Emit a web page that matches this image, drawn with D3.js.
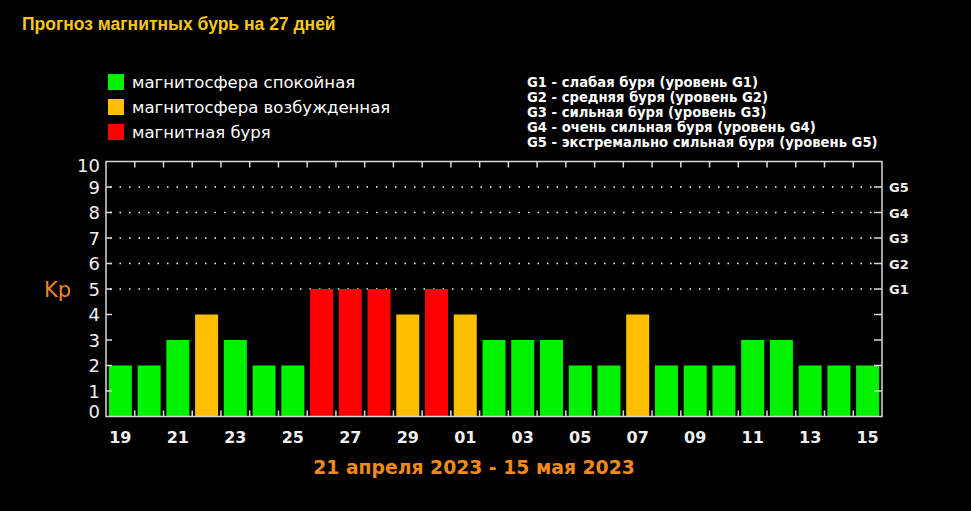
<!DOCTYPE html>
<html><head><meta charset="utf-8">
<script src="https://cdn.jsdelivr.net/npm/d3@7"></script>
<style>html,body{margin:0;padding:0;background:#000;}svg{display:block;}</style>
</head><body>
<svg id="c" width="971" height="511"></svg>
<script>
const days = ["19","20","21","22","23","24","25","26","27","28","29","30","01","02","03","04","05","06","07","08","09","10","11","12","13","14","15"];
const kp =   [2,2,3,4,3,2,2,5,5,5,4,5,4,3,3,3,2,2,4,2,2,2,3,3,2,2,2];
const yTicks = [0,1,2,3,4,5,6,7,8,9,10];
const gLabels = ["G1","G2","G3","G4","G5"];
const gValues = [5,6,7,8,9];
const legendItems = ["магнитосфера спокойная","магнитосфера возбужденная","магнитная буря"];
const legendColors = ["#00f200","#ffbf00","#ff0000"];
const gLegend = ["G1 - слабая буря (уровень G1)","G2 - средняя буря (уровень G2)","G3 - сильная буря (уровень G3)","G4 - очень сильная буря (уровень G4)","G5 - экстремально сильная буря (уровень G5)"];
const title = "Прогноз магнитных бурь на 27 дней";
const dateRange = "21 апреля 2023 - 15 мая 2023";

function colorFor(v){ return v>=5 ? legendColors[2] : (v>=4 ? legendColors[1] : legendColors[0]); }

const svg = d3.select("#c");
svg.append("rect").attr("width",971).attr("height",511).attr("fill","#000");

const L=106, R=882, T=161.5, B=416.5;
const x = d3.scaleBand().domain(days.map((d,i)=>i)).range([L,R]).paddingInner(0.2).paddingOuter(0.1);
const xb = d3.scaleLinear().domain([0,days.length]).range([L,R]);
const y = d3.scaleLinear().domain([0,10]).range([B,T]);

svg.append("text").attr("x",22).attr("y",30).attr("fill","#f5c818")
  .attr("font-family","Liberation Sans, Arial").attr("font-weight","bold").attr("font-size",17.5).text(title);

// legend
const lg = svg.append("g");
legendItems.forEach((t,i)=>{
  lg.append("rect").attr("x",108).attr("y",74+i*25).attr("width",16).attr("height",16).attr("fill",legendColors[i]);
  lg.append("text").attr("x",132).attr("y",88+i*25).attr("fill","#fff").attr("font-family","DejaVu Sans, Verdana").attr("font-size",16.5).text(t);
});
gLegend.forEach((t,i)=>{
  lg.append("text").attr("x",527).attr("y",87+i*15).attr("fill","#fff").attr("font-family","DejaVu Sans, Verdana").attr("font-weight","bold").attr("font-size",13.2).text(t);
});

// grid dotted
gValues.forEach(v=>{
  svg.append("line").attr("x1",L+4).attr("x2",R-4).attr("y1",y(v)).attr("y2",y(v))
    .attr("stroke","#fff").attr("stroke-width",1.5).attr("stroke-dasharray","1.5,8");
});

// bars
svg.selectAll("rect.bar").data(kp).enter().append("rect").attr("class","bar")
  .attr("x",(d,i)=>x(i)).attr("width",x.bandwidth()).attr("y",d=>y(d)).attr("height",d=>B-y(d))
  .attr("fill",d=>colorFor(d));

// frame
svg.append("rect").attr("x",L).attr("y",T).attr("width",R-L).attr("height",B-T)
  .attr("fill","none").attr("stroke","#d8d8d8").attr("stroke-width",1.5);

// x ticks at band boundaries (inward)
d3.range(1,days.length).forEach(i=>{
  svg.append("line").attr("x1",xb(i)).attr("x2",xb(i)).attr("y1",T).attr("y2",T+6).attr("stroke","#d8d8d8").attr("stroke-width",1.5);
  svg.append("line").attr("x1",xb(i)).attr("x2",xb(i)).attr("y1",B).attr("y2",B-6).attr("stroke","#d8d8d8").attr("stroke-width",1.5);
});
// y ticks both sides
yTicks.slice(1,-1).forEach(v=>{
  svg.append("line").attr("x1",L).attr("x2",L+6).attr("y1",y(v)).attr("y2",y(v)).attr("stroke","#d8d8d8").attr("stroke-width",1.5);
  svg.append("line").attr("x1",R).attr("x2",R-8).attr("y1",y(v)).attr("y2",y(v)).attr("stroke","#d8d8d8").attr("stroke-width",1.5);
});

// y labels
svg.selectAll("text.yl").data(yTicks).enter().append("text").attr("class","yl")
  .attr("x",100).attr("y",d=>Math.min(B-5, Math.max(T+3.5, y(d)))+6.5)
  .attr("text-anchor","end").attr("fill","#f0f0f0").attr("font-family","DejaVu Sans, Verdana").attr("font-size",18).text(d=>d);

// G labels
gValues.forEach((v,i)=>{
  svg.append("text").attr("x",889).attr("y",y(v)+5).attr("fill","#f0f0f0")
    .attr("font-family","DejaVu Sans, Verdana").attr("font-weight","bold").attr("font-size",13).text(gLabels[i]);
});

// Kp
svg.append("text").attr("x",44).attr("y",297).attr("fill","#e8862a").attr("font-family","DejaVu Sans, Verdana").attr("font-size",21).text("Kp");

// x labels
days.forEach((d,i)=>{
  if(i%2===0) svg.append("text").attr("x",x(i)+x.bandwidth()/2).attr("y",443).attr("text-anchor","middle")
    .attr("fill","#f0f0f0").attr("font-family","DejaVu Sans, Verdana").attr("font-weight","bold").attr("font-size",16).text(d);
});

svg.append("text").attr("x",474).attr("y",474).attr("text-anchor","middle").attr("fill","#f08a1c")
  .attr("font-family","DejaVu Sans, Verdana").attr("font-weight","bold").attr("font-size",18.8).text(dateRange);
</script>
</body></html>
